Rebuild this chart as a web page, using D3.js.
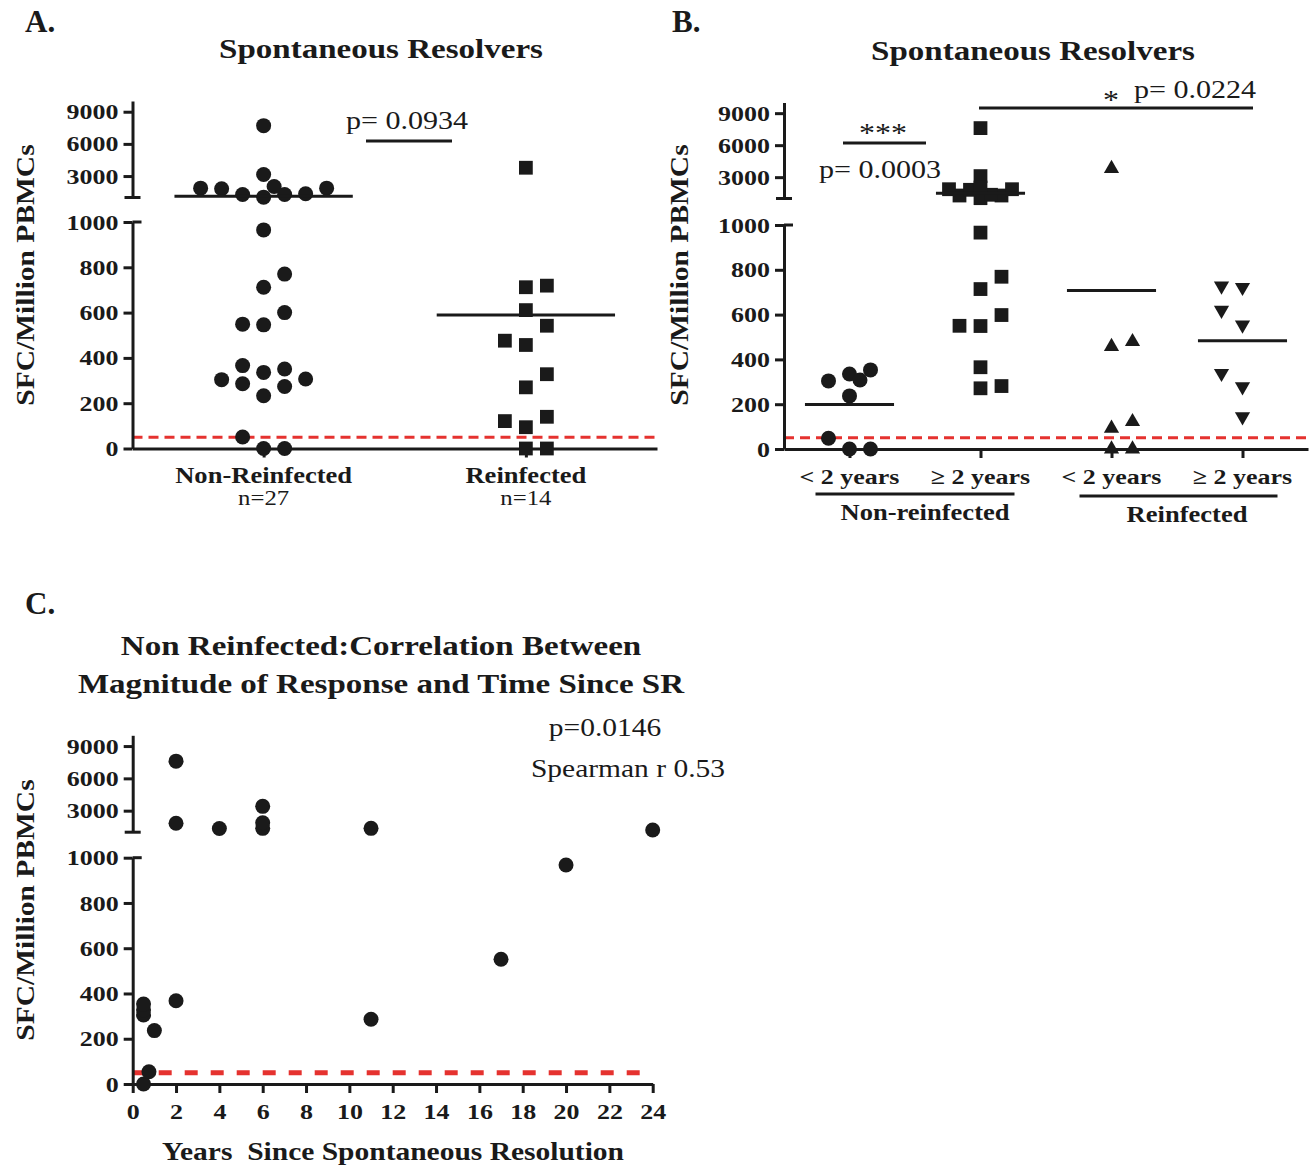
<!DOCTYPE html>
<html>
<head>
<meta charset="utf-8">
<script src="https://cdn.jsdelivr.net/npm/d3@7"></script>
<style>
  body { margin: 0; background: #fff; }
  svg { display: block; }
</style>
</head>
<body>
<svg width="1310" height="1167"></svg>
<script>
// SFC per million PBMCs, listed in the order the dots are stacked
const groupsA = ["Non-Reinfected", "Reinfected"];
const countsA = ["n=27", "n=14"];
const nonReinfA = [0, 0, 51, 965, 712, 770, 546, 600, 549, 336, 351, 366, 307, 304, 286, 233, 274,
  1030, 1280, 1280, 1350, 1815, 1870, 1870, 3150, 7700, 2030];
const reinfA = [0, 0, 94, 140, 121, 270, 328, 457, 611, 542, 476, 712, 719, 3775];

const groupsB = ["NR <2", "NR >=2", "R <2", "R >=2"];
const tickLabelsB = ["< 2 years", "\u2265 2 years", "< 2 years", "\u2265 2 years"];
const superGroupsB = ["Non-reinfected", "Reinfected"];
const nonReinfLt2B = [0, 0, 48, 237, 335, 353, 304, 308];
const nonReinfGe2B = [966, 714, 769, 549, 598, 550, 271, 281, 365,
  1030, 1280, 1280, 1350, 1815, 1870, 1870, 3100, 7600, 2030];
const reinfLt2B = [0, 0, 92, 122, 457, 479, 3800];
const reinfGe2B = [144, 278, 338, 554, 620, 722, 728];

// panel C: years since spontaneous resolution vs SFC
const yearsC = [0.5, 0.5, 0.5, 0.5, 0.75, 1, 2, 2, 2, 4, 6, 6, 6, 11, 11, 17, 20, 24];
const valuesC = [0, 305, 327, 353, 54, 236, 368, 1830, 7600, 1350, 1360, 1880, 3400, 1360, 286, 551, 968, 1200];

const upperTicks = [3000, 6000, 9000];
const lowerTicks = [0, 200, 400, 600, 800, 1000];
const yearTicks = d3.range(0, 25, 2);
const cutoff = 50;

const INK = "#1a1a1a", RED = "#e5322f";
const FONT = "'Liberation Serif','Times New Roman',serif";
const SX = 1.18;   // the figure's lettering is drawn a bit wide
const SLOT = 21;

const svg = d3.select("svg");

function label(g, str, x, y, o = {}) {
  return g.append("text")
    .attr("transform", `translate(${x},${y})${o.rotate ? ` rotate(${o.rotate})` : ""} scale(${o.sx ?? SX},1)`)
    .attr("text-anchor", o.anchor || "middle")
    .attr("fill", INK)
    .style("font-family", FONT)
    .style("font-size", (o.size || 24) + "px")
    .style("font-weight", o.weight || "bold")
    .text(str);
}

function styleAxis(ax) {
  ax.selectAll("path, line").attr("stroke", INK).attr("stroke-width", 3);
  ax.selectAll("text")
    .attr("fill", INK)
    .style("font-family", FONT)
    .style("font-size", "22px")
    .style("font-weight", "bold");
}

// y axis broken at 1000: linear 0-1000 below, 1000-10000 above
function brokenScale(f) {
  const lo = d3.scaleLinear().domain([0, 1000]).range([f.loBottom, f.loTop]);
  const hi = d3.scaleLinear().domain([1000, 10000]).range([f.upBottom, f.upTop]);
  const y = v => (v > 1000 ? hi(v) : lo(v));
  y.lo = lo;
  y.hi = hi;
  return y;
}

function drawYAxis(g, f, y) {
  const ax = g.append("g").attr("transform", `translate(${f.axisX},0)`);
  ax.append("g").call(d3.axisLeft(y.hi).tickValues(upperTicks).tickSize(9).tickSizeOuter(0).tickFormat(d3.format("d")));
  ax.append("g").call(d3.axisLeft(y.lo).tickValues(lowerTicks).tickSize(9).tickSizeOuter(0).tickFormat(d3.format("d")));
  ax.append("line").attr("x1", -8).attr("x2", 8).attr("y1", y.hi(1000)).attr("y2", y.hi(1000));
  ax.append("line").attr("x1", 0).attr("x2", 9).attr("y1", y.lo(1000)).attr("y2", y.lo(1000));
  styleAxis(ax);
  ax.selectAll("text").attr("x", -14 / SX).attr("transform", `scale(${SX},1)`);
}

function drawCutoff(g, f, y, width, dash) {
  g.append("line")
    .attr("x1", f.axisX).attr("x2", f.right)
    .attr("y1", y(cutoff)).attr("y2", y(cutoff))
    .attr("stroke", RED).attr("stroke-width", width).attr("stroke-dasharray", dash);
}

// simple beeswarm: columns SLOT px apart, half columns when a row gets crowded
function swarm(values, y, maxHalf, first) {
  const D = 16, NEAR = 12;
  const cands = [0];
  for (let k = 1; k * SLOT <= maxHalf; k++) cands.push(first * k, -first * k);
  for (let k = 0.5; k * SLOT <= maxHalf; k++) cands.push(first * k, -first * k);
  const placed = [];
  values.forEach(v => {
    const py = y(v);
    const clearance = k => d3.min(placed, p => {
      const dx = (p.k - k) * SLOT, dy = p.py - py;
      return Math.abs(dx) < 5 ? Math.abs(dy) - D : Math.hypot(dx, dy) - NEAR;
    }) ?? Infinity;
    let best = cands.find(k => clearance(k) >= 0);
    if (best === undefined) best = cands.reduce((a, b) => (clearance(b) > clearance(a) ? b : a));
    placed.push({ v, py, k: best });
  });
  return placed;
}

const shapes = {
  circle: { type: d3.symbolCircle, size: 177, rotate: 0 },
  square: { type: d3.symbolSquare, size: 190, rotate: 0 },
  up: { type: d3.symbolTriangle, size: 100, rotate: 0 },
  down: { type: d3.symbolTriangle, size: 100, rotate: 180 }
};

function drawGroup(g, values, cx, y, step, shape, first = 1) {
  const pts = swarm(values, y, step * 0.25, first);
  const sym = d3.symbol().type(shape.type).size(shape.size);
  g.append("g").selectAll("path").data(pts).join("path")
    .attr("d", sym)
    .attr("transform", d => `translate(${cx + d.k * SLOT},${d.py}) rotate(${shape.rotate})`)
    .attr("fill", INK);
  const m = y(d3.mean(values)), hw = step * 0.34;
  g.append("line")
    .attr("x1", cx - hw).attr("x2", cx + hw).attr("y1", m).attr("y2", m)
    .attr("stroke", INK).attr("stroke-width", 3);
}

function hline(g, x1, x2, y) {
  g.append("line").attr("x1", x1).attr("x2", x2).attr("y1", y).attr("y2", y)
    .attr("stroke", INK).attr("stroke-width", 3);
}

// ---------- Panel A ----------
const fA = { axisX: 132.5, right: 657, upTop: 101, upBottom: 197.5, loTop: 222, loBottom: 448.5 };
const gA = svg.append("g");
const yA = brokenScale(fA);
const xA = d3.scalePoint().domain(groupsA).range([fA.axisX, fA.right]).padding(0.5);

label(gA, "A.", 25, 32, { anchor: "start", size: 31, sx: 1 });
label(gA, "Spontaneous Resolvers", 381, 58, { size: 28 });
label(gA, "SFC/Million PBMCs", 34, 275, { rotate: -90, size: 25 });

drawCutoff(gA, fA, yA, 3, "10,6");
drawYAxis(gA, fA, yA);
const axA = gA.append("g").attr("transform", `translate(0,${yA(0)})`)
  .call(d3.axisBottom(xA).tickSize(9).tickSizeOuter(0).tickFormat(""));
styleAxis(axA);

drawGroup(gA, nonReinfA, xA(groupsA[0]), yA, xA.step(), shapes.circle);
drawGroup(gA, reinfA, xA(groupsA[1]), yA, xA.step(), shapes.square);

groupsA.forEach((d, i) => {
  label(gA, d, xA(d), 483, { size: 22.5 });
  label(gA, countsA[i], xA(d), 505, { size: 21, weight: "normal" });
});

label(gA, "p= 0.0934", 407, 129, { size: 25.5, weight: "normal" });
hline(gA, 366, 452, 141);

// ---------- Panel B ----------
const fB = { axisX: 784, right: 1308, upTop: 102.5, upBottom: 198.5, loTop: 225, loBottom: 449 };
const gB = svg.append("g");
const yB = brokenScale(fB);
const xB = d3.scalePoint().domain(groupsB).range([fB.axisX, fB.right]).padding(0.5);

label(gB, "B.", 672, 32, { anchor: "start", size: 31, sx: 1 });
label(gB, "Spontaneous Resolvers", 1033, 60, { size: 28 });
label(gB, "SFC/Million PBMCs", 688, 275, { rotate: -90, size: 25 });

drawCutoff(gB, fB, yB, 3, "10,6");
drawYAxis(gB, fB, yB);
const axB = gB.append("g").attr("transform", `translate(0,${yB(0)})`)
  .call(d3.axisBottom(xB).tickSize(9).tickSizeOuter(0).tickFormat(""));
styleAxis(axB);

const stepB = xB.step();
drawGroup(gB, nonReinfLt2B, xB(groupsB[0]), yB, stepB, shapes.circle);
drawGroup(gB, nonReinfGe2B, xB(groupsB[1]), yB, stepB, shapes.square);
drawGroup(gB, reinfLt2B, xB(groupsB[2]), yB, stepB, shapes.up);
drawGroup(gB, reinfGe2B, xB(groupsB[3]), yB, stepB, shapes.down, -1);

groupsB.forEach((d, i) => label(gB, tickLabelsB[i], xB(d), 484, { size: 22 }));
hline(gB, xB(groupsB[0]) - 34, xB(groupsB[1]) + 34, 494);
hline(gB, xB(groupsB[2]) - 32, xB(groupsB[3]) + 35, 496);
label(gB, superGroupsB[0], 925, 520, { size: 22.5 });
label(gB, superGroupsB[1], 1187, 522, { size: 22.5 });

label(gB, "***", 883, 142, { size: 27, weight: "normal" });
hline(gB, 843, 926, 143);
label(gB, "p= 0.0003", 880, 178, { size: 25.5, weight: "normal" });
label(gB, "*", 1111, 109, { size: 27, weight: "normal" });
label(gB, "p= 0.0224", 1195, 98, { size: 25.5, weight: "normal" });
hline(gB, 979, 1253, 108);

// ---------- Panel C ----------
const fC = { axisX: 132.7, right: 652.7, upTop: 735.3, upBottom: 832.2, loTop: 857.7, loBottom: 1084 };
const gC = svg.append("g");
const yC = brokenScale(fC);
const xC = d3.scaleLinear().domain([0, 24]).range([fC.axisX, fC.right]);

label(gC, "C.", 25, 614, { anchor: "start", size: 31, sx: 1 });
label(gC, "Non Reinfected:Correlation Between", 381, 655, { size: 28 });
label(gC, "Magnitude of Response and Time Since SR", 381, 693, { size: 28 });
label(gC, "SFC/Million PBMCs", 34, 910, { rotate: -90, size: 25 });
label(gC, "p=0.0146", 605, 736, { size: 25, weight: "normal" });
label(gC, "Spearman r 0.53", 628, 777, { size: 25, weight: "normal" });

drawCutoff(gC, fC, yC, 5, "13,13");
drawYAxis(gC, fC, yC);
const axC = gC.append("g").attr("transform", `translate(0,${yC(0)})`)
  .call(d3.axisBottom(xC).tickValues(yearTicks).tickSize(9).tickSizeOuter(0).tickFormat(d3.format("d")));
styleAxis(axC);
axC.selectAll("text").attr("y", 19).attr("transform", `scale(${SX},1)`);

gC.append("g").selectAll("circle").data(d3.zip(yearsC, valuesC)).join("circle")
  .attr("cx", d => xC(d[0]))
  .attr("cy", d => yC(d[1]))
  .attr("r", 7.5)
  .attr("fill", INK);

label(gC, "Years  Since Spontaneous Resolution", 393, 1160, { size: 25 }).style("white-space", "pre");
</script>
</body>
</html>
